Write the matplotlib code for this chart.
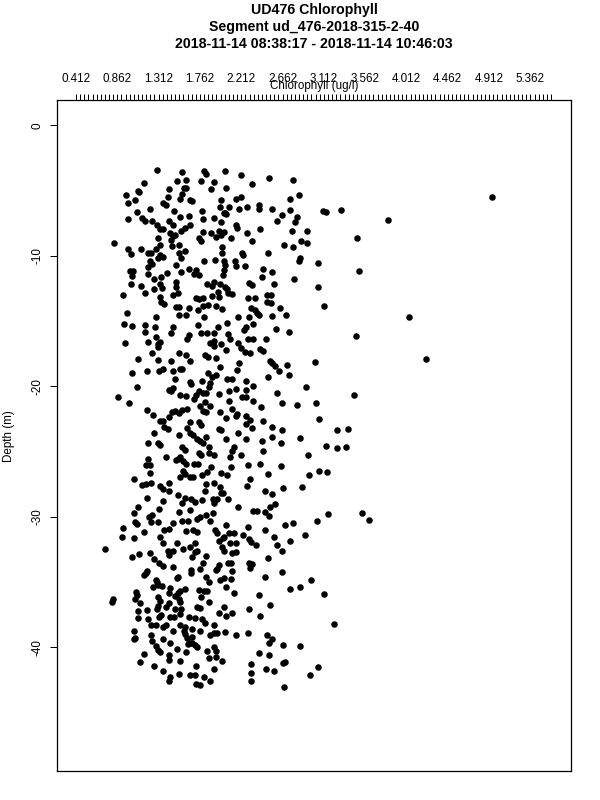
import matplotlib
matplotlib.use("Agg")
import matplotlib.pyplot as plt
import numpy as np

plt.rcParams['font.family'] = ['Liberation Sans', 'DejaVu Sans']
plt.rcParams['axes.unicode_minus'] = False

title_lines = ["UD476 Chlorophyll",
               "Segment ud_476-2018-315-2-40",
               "2018-11-14 08:38:17 - 2018-11-14 10:46:03"]
x_label = "Chlorophyll (ug/l)"
y_label = "Depth (m)"
x_tick_start = 0.412
x_tick_step = 0.45
x_minor_step = 0.045
n_major = 12
n_minor = 116
y_ticks = [0, -10, -20, -30, -40]
y_tick_labels = ["0", "-10", "-20", "-30", "-40"]

# (chlorophyll ug/l, depth m)
pts_0_15 = [
    (1.29,-3.42),(1.57,-3.57),(1.81,-3.49),(1.83,-3.72),(2.04,-3.52),(2.21,-3.77),(2.51,-4.01),(2.78,-4.18),
    (1.15,-4.39),(1.51,-4.23),(1.61,-4.18),(1.77,-4.23),(1.92,-4.36),(2.33,-4.52),(2.05,-4.80),
    (1.09,-5.00),(1.10,-5.10),(1.42,-4.90),(1.59,-4.80),(1.61,-4.80),(1.88,-4.90),
    (0.96,-5.36),(1.41,-5.51),(1.57,-5.26),(1.54,-5.61),(1.65,-5.72),(1.68,-5.82),(1.99,-5.72),(2.16,-5.67),
    (2.21,-5.51),(2.84,-5.31),(2.74,-5.61),
    (0.98,-5.92),(1.06,-5.72),(1.36,-5.97),(1.39,-6.12),(1.22,-6.38),(1.48,-6.58),(1.78,-6.58),(1.98,-6.23),
    (2.04,-6.69),(2.08,-6.23),(2.19,-6.43),(2.28,-6.23),(2.41,-6.07),(2.41,-6.38),(2.55,-6.43),(2.74,-6.48),
    (1.08,-6.64),(0.98,-7.15),(1.13,-7.10),(1.16,-7.30),(1.24,-7.30),(1.29,-7.66),(1.33,-7.96),(1.36,-7.91),
    (1.43,-7.30),(1.47,-7.66),(1.54,-7.04),(1.64,-6.94),(1.65,-7.61),(1.60,-7.86),(1.56,-8.07),(1.80,-7.15),
    (1.92,-7.10),(1.99,-7.40),(2.02,-6.74),(2.05,-6.79),(2.16,-7.61),(2.17,-7.86),(2.42,-7.94),(2.60,-7.30),
    (2.66,-6.89),(2.80,-7.40),(2.82,-7.04),
    (0.83,-8.99),(1.31,-8.63),(1.33,-9.14),(1.44,-8.22),(1.47,-8.47),(1.49,-8.37),(1.45,-8.78),(1.46,-9.24),
    (1.53,-9.19),(1.75,-8.65),(1.77,-8.83),(1.79,-8.17),(1.88,-8.27),(1.94,-8.58),(1.97,-8.12),(1.99,-8.37),
    (2.02,-8.17),(2.10,-8.63),(2.27,-8.27),(2.33,-8.88),(2.77,-8.12),(2.93,-8.12),(2.68,-9.14),(2.78,-9.32),
    (2.86,-8.86),(2.93,-8.99),
    (0.98,-9.45),(1.01,-9.85),(1.12,-9.45),(1.20,-9.80),(1.23,-9.75),(1.28,-9.45),(1.33,-9.90),(1.36,-10.11),
    (1.30,-10.19),(1.53,-9.75),(1.56,-10.16),(1.60,-9.60),(2.00,-9.34),(2.00,-9.80),(2.22,-9.80),(2.23,-9.95),
    (2.50,-9.75),(2.85,-10.16),(2.84,-10.42),(3.05,-10.52),
    (1.22,-10.42),(1.24,-10.62),(1.20,-10.82),(1.00,-11.18),(1.03,-11.13),(1.02,-11.54),(1.20,-11.39),
    (1.26,-11.79),(1.34,-11.59),(1.40,-11.33),(1.50,-10.67),(1.56,-11.23),(1.64,-11.03),(1.70,-11.39),
    (1.72,-11.08),(1.75,-11.49),(1.81,-10.42),(1.93,-10.31),(2.02,-10.36),(2.04,-10.67),(2.02,-11.08),
    (2.01,-11.44),(2.14,-10.36),(2.15,-10.77),(2.25,-10.77),(2.45,-10.98),(2.44,-11.59),(2.55,-11.23),
    (2.79,-11.74),
    (1.01,-12.15),(1.12,-12.31),(1.16,-12.82),(0.92,-12.97),(1.26,-12.56),(1.33,-12.15),(1.35,-12.46),
    (1.50,-11.97),(1.50,-12.41),(1.47,-12.97),(1.52,-12.82),(1.84,-12.15),(1.89,-12.31),(1.92,-12.00),
    (1.98,-12.15),(2.03,-12.36),(2.06,-12.51),(1.96,-12.77),(2.07,-12.87),(2.11,-12.92),(2.30,-12.10),
    (2.33,-12.25),(2.57,-12.15),(3.05,-12.41),
    (1.33,-13.17),(1.34,-13.53),(1.37,-13.69),(1.50,-13.89),(1.53,-13.89),(1.64,-13.99),(1.72,-13.22),
    (1.75,-13.33),(1.79,-13.22),(1.74,-14.14),(1.79,-13.84),(1.85,-13.79),(1.89,-13.07),(1.94,-13.84),
    (1.97,-13.17),(2.00,-14.04),(2.29,-13.22),(2.36,-13.22),(2.49,-13.02),(2.54,-13.02),(2.49,-13.53),
    (2.54,-13.63),(2.63,-13.99),(2.32,-13.99),(2.36,-14.14),(2.38,-14.40),(2.41,-14.55),
    (0.97,-14.35),(1.28,-14.71),(1.53,-14.55),(1.61,-14.50),(1.81,-14.66),(2.18,-14.66),(2.30,-14.66),
    (2.55,-14.60),(2.70,-14.55),
]

pts_15_27 = [
    (0.94,-15.22),(1.02,-15.37),(1.16,-15.27),(1.27,-15.42),(1.47,-15.42),(1.74,-15.27),(1.96,-15.47),
    (2.06,-15.12),(2.24,-15.68),(2.26,-15.47),(2.34,-15.22),(2.59,-15.58),(2.73,-15.86),
    (1.16,-15.83),(1.28,-16.19),(1.45,-15.88),(1.64,-16.04),(1.62,-16.34),(1.77,-15.93),(1.84,-15.93),
    (1.92,-15.88),(2.07,-15.98),(2.09,-16.34),(2.29,-16.39),(2.34,-16.34),(0.95,-16.70),(1.20,-16.60),
    (1.31,-16.75),(1.33,-16.60),(1.30,-16.96),(1.87,-16.65),(1.91,-16.50),(1.92,-16.90),(1.99,-16.75),
    (2.05,-17.21),(2.18,-16.70),(2.21,-17.06),(2.25,-17.36),(2.31,-17.42),(2.42,-17.16),(2.45,-17.26),
    (2.48,-16.39),
    (1.09,-17.93),(1.24,-17.47),(1.31,-17.98),(1.45,-18.08),(1.53,-17.47),(1.61,-17.57),(1.65,-18.08),
    (1.82,-17.62),(1.85,-17.77),(1.94,-17.82),(2.19,-18.18),(2.53,-18.03),(2.55,-18.18),(2.58,-18.44),
    (2.62,-18.79),(2.71,-18.39),(3.02,-18.13),
    (1.02,-18.95),(1.18,-18.79),(1.32,-18.79),(1.36,-18.64),(1.47,-18.85),(1.55,-18.64),(1.57,-18.64),
    (1.85,-18.95),(1.89,-19.25),(1.94,-19.15),(1.98,-18.54),(2.17,-18.74),(2.50,-19.25),(2.73,-19.15),
    (1.49,-19.41),(1.65,-19.66),(1.67,-19.82),(1.78,-19.56),(1.87,-19.77),(1.86,-20.02),(2.06,-19.46),
    (2.11,-19.41),(2.26,-19.56),(2.34,-19.97),(1.08,-20.07),(1.42,-20.28),(1.45,-20.33),(1.47,-20.12),
    (1.54,-20.63),(1.61,-20.74),(1.75,-20.33),(1.80,-20.48),(1.83,-20.48),(1.97,-20.58),(2.08,-20.33),
    (2.15,-20.22),(2.26,-20.28),(2.60,-20.48),(2.92,-20.07),
    (0.87,-20.79),(0.99,-21.25),(1.70,-20.94),(1.72,-20.68),(1.76,-21.50),(1.82,-21.20),(1.87,-21.50),
    (1.79,-21.91),(1.83,-21.96),(2.08,-21.09),(2.11,-21.71),(2.22,-20.84),(2.26,-20.79),(2.34,-21.14),
    (2.43,-21.60),(2.66,-21.25),(2.82,-21.40),(3.03,-21.25),
    (1.18,-21.81),(1.25,-22.17),(1.33,-22.62),(1.36,-22.62),(1.42,-22.37),(1.46,-21.96),(1.49,-21.86),
    (1.53,-22.06),(1.57,-21.81),(1.62,-21.71),(1.65,-22.73),(1.75,-22.73),(1.77,-22.98),(1.98,-21.96),
    (2.05,-22.42),(2.15,-22.27),(2.17,-22.11),(2.26,-22.27),(2.26,-22.88),(2.31,-22.57),(2.33,-23.19),
    (2.45,-22.62),(2.55,-23.08),(2.66,-23.34),(3.06,-22.52),
    (1.26,-23.54),(1.41,-23.24),(1.37,-23.14),(1.53,-23.75),(1.62,-23.19),(1.65,-23.60),(1.69,-23.75),
    (1.73,-24.06),(1.76,-24.16),(1.83,-23.85),(1.80,-24.31),(1.86,-24.62),(1.97,-23.24),(1.99,-23.34),
    (2.05,-24.00),(2.18,-23.54),(2.26,-24.06),(2.44,-24.16),(2.55,-23.90),(2.64,-24.31),(2.85,-23.95),
    (1.20,-24.36),(1.31,-24.36),(1.33,-24.51),(1.57,-24.62),(1.60,-24.87),(1.55,-25.43),(1.52,-25.54),
    (1.50,-25.64),(1.58,-25.74),(1.61,-25.95),(1.75,-25.13),(1.77,-25.28),(1.86,-25.13),(1.91,-25.28),
    (2.13,-24.62),(2.11,-24.92),(2.21,-25.23),(2.09,-25.43),(2.45,-24.97),(1.39,-25.38),(1.20,-25.54),
    (1.17,-26.00),(1.22,-26.00),(1.70,-25.95),(1.74,-25.95),(1.88,-26.15),(2.10,-26.20),(2.29,-26.05),
    (2.42,-25.95),(2.64,-26.10),(2.94,-25.28),
    (1.22,-26.66),(1.58,-26.51),(1.60,-26.71),(1.04,-27.07),(1.55,-26.97),(1.65,-26.97),(1.69,-26.97),
    (1.78,-26.81),(1.84,-26.56),(1.99,-26.66),(2.06,-26.81),(2.31,-27.12),(2.50,-26.71),(2.95,-26.76),
    (3.06,-26.46),
]

pts_27_43 = [
    (1.13,-27.58),(1.17,-27.48),(1.23,-27.43),(1.33,-27.63),(1.36,-27.89),(1.42,-27.38),(1.43,-28.04),
    (1.83,-27.48),(1.91,-27.43),(1.98,-27.73),(2.01,-28.14),(2.28,-27.63),(2.47,-27.99),(2.55,-28.24),
    (2.67,-27.79),(2.87,-27.73),
    (1.19,-28.55),(1.36,-28.76),(1.52,-28.30),(1.57,-28.91),(1.60,-28.55),(1.67,-28.60),(1.71,-28.86),
    (1.78,-28.70),(1.82,-27.99),(1.90,-28.65),(1.92,-28.96),(1.95,-28.65),(1.99,-28.19),(2.07,-28.65),
    (2.18,-29.22),(2.34,-29.57),(2.38,-29.52),(2.47,-29.62),(2.51,-29.93),(2.53,-29.22),(2.58,-29.01),
    (1.09,-29.22),(1.04,-29.73),(1.21,-29.98),(1.24,-29.83),(1.32,-29.37),(1.53,-29.62),(1.65,-29.47),
    (1.73,-30.19),(1.76,-30.03),(1.83,-29.83),(1.87,-30.29),(1.90,-29.68),(2.05,-30.59),(1.06,-30.39),
    (1.08,-30.54),(1.23,-30.39),(1.31,-30.39),(1.37,-31.00),(1.42,-30.90),(1.47,-30.49),(1.57,-30.34),
    (1.63,-30.34),(1.61,-31.05),(1.69,-31.00),(1.73,-31.16),(1.93,-31.00),(1.95,-31.26),(2.02,-31.57),
    (2.08,-31.26),(2.13,-31.26),(2.23,-31.36),(2.29,-30.75),(2.30,-31.67),(2.32,-31.92),(2.37,-32.18),
    (2.47,-31.00),(2.57,-31.51),(2.60,-32.13),(2.69,-30.59),(2.78,-30.44),(2.74,-31.82),(2.91,-31.36),
    (3.04,-30.29),(0.92,-30.85),(0.91,-31.57),(1.04,-31.62),(1.15,-31.16),(1.33,-31.57),(1.36,-32.02),
    (1.51,-32.02),(1.58,-32.43),(1.65,-32.28),(1.71,-32.02),(1.97,-31.87),(2.01,-31.62),(2.00,-32.28),
    (2.09,-31.97),(2.16,-32.02),(0.73,-32.43),
    (1.02,-33.05),(1.10,-32.84),(1.22,-32.74),(1.26,-33.20),(1.32,-33.56),(1.36,-33.76),(1.41,-32.59),
    (1.42,-32.89),(1.47,-33.81),(1.47,-32.59),(1.71,-32.69),(1.68,-33.10),(1.73,-32.64),(1.83,-33.00),
    (1.80,-33.51),(1.95,-33.97),(1.97,-33.71),(2.02,-32.59),(2.07,-33.51),(2.10,-33.51),(2.11,-32.79),
    (2.15,-32.69),(2.30,-33.51),(2.33,-33.61),(2.31,-33.91),(2.50,-33.15),(2.66,-32.59),
    (1.18,-34.12),(1.17,-34.32),(1.15,-34.48),(1.28,-34.83),(1.29,-34.99),(1.25,-35.34),(1.31,-35.24),
    (1.35,-35.29),(1.51,-34.68),(1.52,-34.58),(1.66,-34.07),(1.76,-33.97),(1.66,-34.32),(1.83,-34.58),
    (1.86,-34.99),(1.94,-34.07),(1.98,-34.83),(2.02,-34.68),(2.11,-34.17),(2.10,-34.73),(2.05,-35.40),
    (2.13,-35.86),(2.47,-34.58),(2.66,-34.22),(2.74,-35.55),(2.85,-35.34),(2.97,-34.83),
    (1.07,-35.75),(1.08,-36.01),(1.06,-36.26),(1.11,-36.62),(1.31,-36.11),(1.33,-36.47),(1.44,-35.45),
    (1.43,-35.80),(1.49,-36.06),(1.52,-35.86),(1.55,-35.70),(1.60,-35.50),(1.53,-36.26),(1.55,-36.52),
    (1.56,-37.03),(1.49,-37.08),(1.43,-36.62),(1.39,-36.88),(1.31,-36.83),(1.29,-37.08),(1.75,-35.60),
    (1.77,-36.16),(1.81,-35.65),(1.84,-35.65),(1.86,-36.52),(2.02,-36.88),(1.97,-37.34),(2.05,-37.59),
    (2.11,-37.39),(2.40,-35.96),(2.53,-36.72),(2.30,-37.03),(2.42,-37.59),(0.82,-36.32),(0.80,-36.52),
    (1.09,-37.18),(1.09,-37.75),(1.19,-37.13),(1.20,-37.85),(1.23,-38.26),(1.28,-38.31),(1.32,-37.64),
    (1.34,-37.54),(1.36,-38.41),(1.39,-38.26),(1.44,-37.69),(1.48,-37.69),(1.54,-37.44),(1.64,-37.69),
    (1.71,-37.75),(1.73,-36.93),(1.76,-36.98),(1.78,-37.85),(1.82,-38.10),(1.92,-38.26),(1.55,-38.31),
    (1.60,-38.41),(1.68,-38.61),(1.59,-38.72),
    (1.04,-38.72),(1.05,-39.28),(1.04,-39.38),(1.24,-39.53),(1.23,-39.07),(1.28,-39.89),(1.30,-40.20),
    (1.33,-40.35),(1.36,-39.33),(1.44,-39.69),(1.47,-38.77),(1.51,-40.15),(1.60,-38.97),(1.62,-39.28),
    (1.63,-39.74),(1.65,-39.69),(1.68,-39.64),(1.68,-39.18),(1.71,-39.79),(1.73,-39.99),(1.61,-40.35),
    (1.76,-38.77),(1.87,-39.07),(1.91,-38.92),(1.95,-38.87),(2.03,-38.82),(2.16,-39.02),(2.29,-38.92),
    (2.49,-39.07),(2.51,-39.64),(2.55,-39.38),(2.67,-39.79),(2.85,-39.89),(1.84,-40.25),(1.92,-39.94),
    (1.94,-40.25),(1.86,-40.81),(1.94,-40.76),(2.00,-41.02),
    (1.15,-40.50),(1.11,-41.12),(1.26,-41.42),(1.43,-40.56),(1.42,-40.96),(1.54,-41.02),(1.36,-41.83),
    (1.44,-42.24),(1.42,-42.60),(1.53,-42.04),(1.65,-42.09),(1.72,-41.42),(1.71,-42.09),(1.72,-42.80),
    (1.76,-42.90),(1.81,-42.24),(1.87,-42.60),(1.91,-41.63),(2.32,-41.27),(2.32,-41.99),(2.32,-42.55),
    (2.41,-40.45),(2.51,-40.61),(2.48,-41.63),(2.57,-41.83),(2.67,-41.22),(2.69,-41.12),(2.68,-43.01),
    (2.96,-42.14),(3.05,-41.47),
]

pts_right = [
    (3.10,-6.56),(3.14,-6.66),(3.30,-6.48),(3.81,-7.25),(3.47,-8.60),(3.50,-11.18),(3.11,-13.86),
    (3.46,-16.14),(4.04,-14.68),(4.22,-17.87),(4.94,-5.51),
    (3.44,-20.66),(3.25,-23.37),(3.38,-23.24),(3.14,-24.54),(3.25,-24.72),(3.35,-24.62),(3.15,-26.53),
    (3.16,-29.75),(3.53,-29.67),(3.60,-30.21),(3.11,-35.93),(3.22,-38.18),
]

pts = np.array(pts_0_15 + pts_15_27 + pts_27_43 + pts_right)

W, H = 600, 800
fig = plt.figure(figsize=(6, 8), dpi=100)
L, R, T, B = 57, 571, 100.3, 771
ax = fig.add_axes([L / W, 1 - B / H, (R - L) / W, (B - T) / H])
ax.plot(pts[:, 0], pts[:, 1], 'o', color='black', ms=4.7, mew=0)
ax.set_xlim(0.205, 5.804)
ax.set_ylim(-49.47, 1.92)

major = [x_tick_start + x_tick_step * j for j in range(n_major)]
minor = [x_tick_start + x_minor_step * k for k in range(n_minor)]
ax.xaxis.tick_top()
ax.set_xticks(major)
ax.set_xticklabels([f"{v:.3f}" for v in major])
ax.set_xticks(minor, minor=True)
ax.tick_params(axis='x', which='both', length=4.3, width=0.72, pad=6.5,
               labelsize=8.4, direction='out')

ax.set_yticks(y_ticks)
ax.set_yticklabels(y_tick_labels, rotation=90, va='center')
ax.tick_params(axis='y', length=5, width=0.72, pad=4.5, labelsize=8.4)

for s in ax.spines.values():
    s.set_linewidth(0.9)

cx = (L + R) / 2 / W
for i, line in enumerate(title_lines):
    fig.text(cx, 1 - (10 + 17 * i) / H, line, ha='center', va='center',
             fontsize=10.2, fontweight='bold')
fig.text(cx, 1 - 86 / H, x_label, ha='center', va='center', fontsize=8.4)
fig.text(9 / W, 1 - ((T + B) / 2) / H, y_label, ha='center', va='center',
         rotation=90, fontsize=8.4)

fig.savefig("out.png", dpi=100)
